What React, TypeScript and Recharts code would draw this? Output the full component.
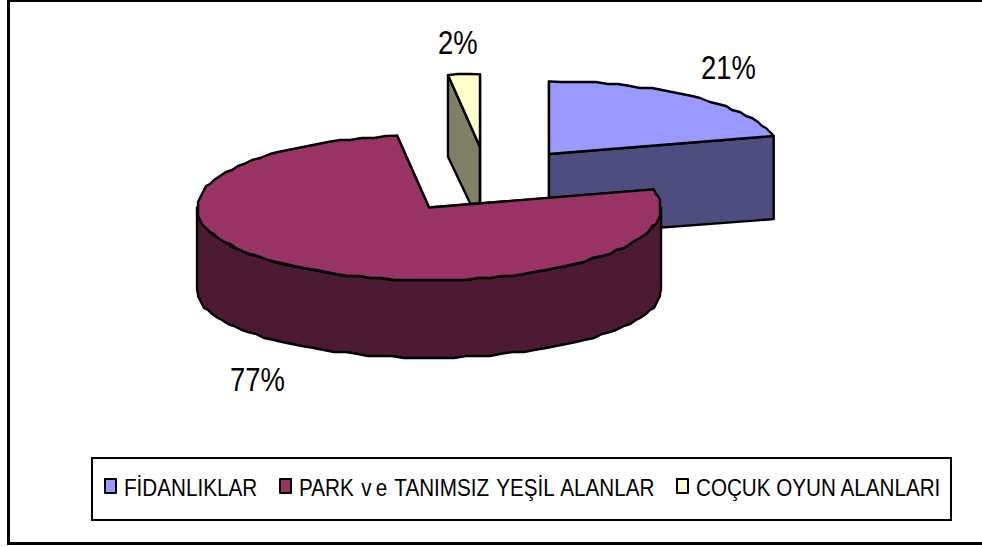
import { PieChart, Pie, Legend } from "recharts";

const categories = ["FİDANLIKLAR", "PARK ve TANIMSIZ YEŞİL ALANLAR", "COÇUK OYUN ALANLARI"];
const shares = [21, 76.8, 2.2];

const TOP_COLORS = ["#9999FF", "#993366", "#FFFFCC"];
const SIDE_COLORS = ["#4D4D80", "#4D1A33", "#808066"];

// exploded slice offsets from the pie centre, and label anchors relative to it
const EXPLODE = [[69, -26], [-51, 27.5], [0, -33]];
const LABEL_AT = [[221, -101], [-250, 211], [-42, -126]];
const LEGEND_LEFT = [11, 186, 583];

const CX = 480;
const CY = 180;
const RADIUS = 232;
const SQUASH = 0.313; // ellipse height / width
const SQUASH_LOWER = 0.293; // perspective: the bottom rim is a bit flatter
const DEPTH = [82, 82, 77];
const GRID = 2; // the source outline is a coarse, stair-stepped polyline

const data = categories.map((name, i) => ({ name, value: shares[i], fill: TOP_COLORS[i], idx: i }));

const rad = (deg: number) => (deg * Math.PI) / 180;

function rim(cx: number, cy: number, r: number, deg: number, drop = 0) {
  const k = drop ? SQUASH_LOWER : SQUASH;
  return [cx + r * Math.cos(rad(deg)), cy - r * k * Math.sin(rad(deg)) + drop];
}

function arcPoints(cx: number, cy: number, r: number, from: number, to: number, drop = 0) {
  const steps = Math.max(1, Math.ceil(Math.abs(from - to) / 3));
  const pts: number[][] = [];
  for (let i = 0; i <= steps; i++) {
    const p = rim(cx, cy, r, from + ((to - from) * i) / steps, drop);
    const inner = i > 0 && i < steps;
    pts.push(inner ? [Math.round(p[0] / GRID) * GRID, Math.round(p[1] / GRID) * GRID] : p);
  }
  return pts;
}

const toPath = (pts: number[][]) =>
  "M" + pts.map((p) => `${p[0].toFixed(1)},${p[1].toFixed(1)}`).join("L") + "Z";

function Slice3D(props: any) {
  const { cx, cy, outerRadius, startAngle, endAngle, payload } = props;
  const idx = payload.idx;
  const x = cx + EXPLODE[idx][0];
  const y = cy + EXPLODE[idx][1];
  const depth = DEPTH[idx];
  const face = (deg: number) =>
    toPath([[x, y], rim(x, y, outerRadius, deg), rim(x, y, outerRadius, deg, depth), [x, y + depth]]);
  // only the lower half of the rim shows a wall
  const wallFrom = Math.min(startAngle, 0);
  const wallTo = Math.max(endAngle, -180);
  const stroke = { stroke: "#000", strokeWidth: 2.4, strokeLinejoin: "round" as const };
  return (
    <g>
      <path d={face(startAngle)} fill={SIDE_COLORS[idx]} {...stroke} />
      <path d={face(endAngle)} fill={SIDE_COLORS[idx]} {...stroke} />
      {wallFrom > wallTo && (
        <path
          d={toPath([
            ...arcPoints(x, y, outerRadius, wallFrom, wallTo),
            ...arcPoints(x, y, outerRadius, wallTo, wallFrom, depth),
          ])}
          fill={SIDE_COLORS[idx]}
          {...stroke}
        />
      )}
      <path d={toPath([[x, y], ...arcPoints(x, y, outerRadius, startAngle, endAngle)])} fill={TOP_COLORS[idx]} {...stroke} />
    </g>
  );
}

// maroon slice has to sit on top of the other two, so it gets its own pass
const BackSlices = (props: any) => (props.payload.idx === 1 ? <g /> : <Slice3D {...props} />);
const FrontSlice = (props: any) => (props.payload.idx === 1 ? <Slice3D {...props} /> : <g />);

function PercentLabel(props: any) {
  const { cx, cy, index, value } = props;
  const tx = cx + LABEL_AT[index][0];
  const ty = cy + LABEL_AT[index][1];
  return (
    <text
      transform={`translate(${tx} ${ty}) scale(0.83 1)`}
      fontFamily="Liberation Sans"
      fontSize={33}
      fill="#000"
    >
      {Math.round(value)}%
    </text>
  );
}

// the source renders "ve" with a gap between the letters
function legendText(name: string) {
  const at = name.indexOf(" ve ");
  if (at < 0) return name;
  return (
    <>
      {name.slice(0, at + 1)}
      <span style={{ letterSpacing: 5 }}>v</span>
      {name.slice(at + 2)}
    </>
  );
}

function LegendBox(props: any) {
  const seen = new Set<string>();
  const items = (props.payload || []).filter((it: any) => {
    if (seen.has(it.value)) return false;
    seen.add(it.value);
    return true;
  });
  return (
    <div style={{ position: "relative", width: 857, height: 60, border: "2px solid #000", background: "#fff" }}>
      {items.map((item: any) => {
        const i = categories.indexOf(item.value);
        return (
          <div key={item.value}>
            <div
              style={{
                position: "absolute",
                left: LEGEND_LEFT[i],
                top: 19,
                width: 9,
                height: 12,
                border: "2px solid #000",
                borderRadius: 1,
                background: TOP_COLORS[i],
              }}
            />
            <span
              style={{
                position: "absolute",
                left: LEGEND_LEFT[i] + 20,
                top: 15,
                fontFamily: "Liberation Sans",
                fontSize: 24,
                lineHeight: "28px",
                whiteSpace: "nowrap",
                wordSpacing: i === 1 ? 2 : 0,
                color: "#000",
                transform: "scaleX(0.86)",
                transformOrigin: "left top",
              }}
            >
              {legendText(item.value)}
            </span>
          </div>
        );
      })}
    </div>
  );
}

export default function App() {
  return (
    <div style={{ position: "absolute", left: 0, top: 0, width: 982, height: 547, background: "#fff", overflow: "hidden" }}>
      <div style={{ position: "absolute", left: 7, top: 0, width: 3, height: 545, background: "#000" }} />
      <div style={{ position: "absolute", left: 7, top: 0, width: 975, height: 2, background: "#000" }} />
      <div style={{ position: "absolute", left: 7, top: 542, width: 975, height: 3, background: "#000" }} />
      <PieChart
        width={982}
        height={547}
        margin={{ top: 0, right: 0, bottom: 0, left: 0 }}
        style={{ position: "absolute", left: 0, top: 0 }}
      >
        <Pie
          data={data}
          dataKey="value"
          nameKey="name"
          cx={CX}
          cy={CY}
          outerRadius={RADIUS}
          startAngle={90}
          endAngle={-270}
          isAnimationActive={false}
          shape={BackSlices}
          label={PercentLabel}
          labelLine={false}
        />
        <Pie
          data={data}
          dataKey="value"
          nameKey="name"
          cx={CX}
          cy={CY}
          outerRadius={RADIUS}
          startAngle={90}
          endAngle={-270}
          isAnimationActive={false}
          shape={FrontSlice}
          legendType="none"
        />
        <Legend
          content={LegendBox}
          itemSorter={null}
          wrapperStyle={{ position: "absolute", left: 91, top: 457, bottom: "auto", width: 861, height: 64 }}
        />
      </PieChart>
    </div>
  );
}
